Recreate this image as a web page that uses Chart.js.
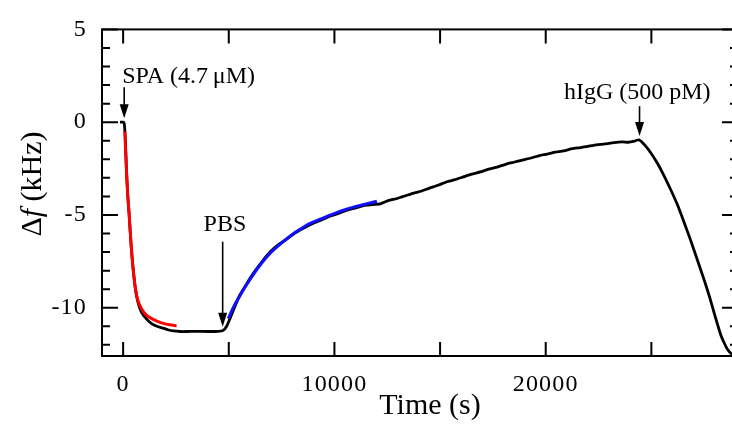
<!DOCTYPE html>
<html><head><meta charset="utf-8">
<script src="https://cdn.jsdelivr.net/npm/chart.js@4/dist/chart.umd.min.js"></script>
<style>
html,body{margin:0;padding:0;background:#fff;overflow:hidden;width:732px;height:438px;}
#wrap{width:740px;height:438px;}
canvas{display:block;}
</style></head><body>
<div id="wrap"><canvas id="c" width="740" height="438"></canvas></div>
<script>
// ---- measured trace (black) ----
const timeBlack = [-150, 0, 50, 100, 160, 220, 285, 380, 475, 585, 700, 870, 1100, 1345, 1600, 1900, 2150, 2370, 2700, 3000, 3500, 4000, 4500, 4740, 4900, 5050, 5300, 5530, 5850, 6160, 6550, 6950, 7350, 7745, 8130, 8530, 8900, 9320, 9700, 10110, 10500, 10900, 11500, 12165, 12480, 13000, 13400, 13745, 14100, 14500, 14900, 15325, 15700, 16100, 16500, 16905, 17300, 17700, 18100, 18485, 18900, 19300, 19700, 20065, 20450, 20850, 21250, 21645, 22000, 22400, 22800, 23225, 23600, 23935, 24200, 24408, 24700, 24960, 25280, 25590, 25900, 26230, 26550, 26860, 27170, 27490, 27750, 27960, 28130, 28280, 28450, 28600, 28800, 29000];
const dfBlack = [0, 0, -0.05, -0.8, -2.6, -4.0, -5.0, -6.7, -7.9, -9.0, -9.7, -10.25, -10.6, -10.85, -11.0, -11.1, -11.2, -11.25, -11.28, -11.28, -11.27, -11.28, -11.27, -11.22, -11.0, -10.6, -9.9, -9.3, -8.7, -8.15, -7.55, -7.0, -6.6, -6.3, -5.98, -5.72, -5.5, -5.3, -5.1, -4.95, -4.78, -4.65, -4.47, -4.4, -4.25, -4.1, -3.95, -3.82, -3.72, -3.55, -3.4, -3.21, -3.1, -2.95, -2.8, -2.68, -2.53, -2.42, -2.27, -2.16, -2.04, -1.93, -1.8, -1.72, -1.62, -1.55, -1.43, -1.37, -1.3, -1.22, -1.17, -1.1, -1.06, -1.08, -1.02, -0.95, -1.25, -1.63, -2.2, -2.86, -3.6, -4.44, -5.4, -6.37, -7.4, -8.47, -9.4, -10.23, -10.9, -11.45, -11.9, -12.24, -12.5, -12.6];
// ---- SPA binding fit (red) ----
const timeRed = [80, 95, 160, 220, 285, 380, 475, 585, 700, 870, 1100, 1345, 1600, 1900, 2200, 2530];
const dfRed = [-0.5, -0.93, -2.68, -3.95, -4.97, -6.6, -7.95, -9.0, -9.6, -10.05, -10.4, -10.58, -10.72, -10.84, -10.92, -10.98];
// ---- PBS fit (blue) ----
const timeBlue = [4976, 5250, 5530, 5850, 6160, 6550, 6950, 7350, 7745, 8130, 8530, 8900, 9320, 9700, 10110, 10500, 10900, 11450, 12010];
const dfBlue = [-10.58, -9.9, -9.35, -8.75, -8.21, -7.6, -7.07, -6.65, -6.28, -5.95, -5.66, -5.43, -5.23, -5.05, -4.87, -4.72, -4.58, -4.42, -4.26];
// ---- axes ----
const xLabelTicks = [0, 10000, 20000];
const xMajorTicks = [0, 5000, 10000, 15000, 20000, 25000];
const yLabelTicks = [5, 0, -5, -10];
const yMinorTicks = [4, 3, 2, 1, -1, -2, -3, -4, -6, -7, -8, -9, -11, -12];
const xTitle = 'Time (s)';
// ---- annotations (data units) ----
const annotLabels = ['SPA (4.7\u2009\u03bcM)', 'PBS', 'hIgG (500 pM)'];
const annotTextX = [3100, 4820, 24330];
const annotTextY = [2.09, -5.87, 1.23];
const arrowX = [50, 4711, 24440];
const arrowFrom = [1.88, -6.44, 0.86];
const arrowTo = [0.21, -11.02, -0.75];

const pts = (t, v) => t.map((x, i) => ({x: x, y: v[i]}));
const FONT = '"Liberation Serif", "Times New Roman", serif';

const deco = {
  id: 'deco',
  beforeDraw(chart) { chart.ctx.letterSpacing = '1.2px'; },
  afterDatasetsDraw(chart) {
    const {ctx, chartArea: a, scales: {x, y}} = chart;
    ctx.save();
    ctx.strokeStyle = '#000';
    ctx.lineWidth = 2;
    ctx.strokeRect(a.left, a.top, a.right - a.left, a.bottom - a.top);
    ctx.beginPath();
    yLabelTicks.forEach(v => { const p = y.getPixelForValue(v);
      ctx.moveTo(a.left, p); ctx.lineTo(a.left + 16, p);
      ctx.moveTo(a.right, p); ctx.lineTo(a.right - 16, p); });
    yMinorTicks.forEach(v => { const p = y.getPixelForValue(v);
      ctx.moveTo(a.left, p); ctx.lineTo(a.left + 8, p);
      ctx.moveTo(a.right, p); ctx.lineTo(a.right - 8, p); });
    xMajorTicks.forEach(v => { const p = x.getPixelForValue(v);
      ctx.moveTo(p, a.bottom); ctx.lineTo(p, a.bottom - 14);
      ctx.moveTo(p, a.top); ctx.lineTo(p, a.top + 14); });
    ctx.stroke();
    ctx.restore();
  },
  afterDraw(chart) {
    const {ctx, scales: {x, y}} = chart;
    ctx.save();
    ctx.letterSpacing = '0px';
    ctx.fillStyle = '#000';
    ctx.strokeStyle = '#000';
    ctx.font = '24px ' + FONT;
    ctx.textAlign = 'center';
    ctx.textBaseline = 'alphabetic';
    annotLabels.forEach((s, i) => {
      ctx.fillText(s, x.getPixelForValue(annotTextX[i]), y.getPixelForValue(annotTextY[i]));
      const px = x.getPixelForValue(arrowX[i]);
      const y0 = y.getPixelForValue(arrowFrom[i]);
      const y1 = y.getPixelForValue(arrowTo[i]);
      ctx.lineWidth = 1.6;
      ctx.beginPath(); ctx.moveTo(px, y0); ctx.lineTo(px, y1 - 12); ctx.stroke();
      ctx.beginPath(); ctx.moveTo(px, y1); ctx.lineTo(px - 4.5, y1 - 14); ctx.lineTo(px + 4.5, y1 - 14); ctx.closePath(); ctx.fill();
    });
    ctx.font = '30px ' + FONT;
    ctx.fillText(xTitle, 430, 414);
    const segs = [['\u0394', ''], ['f', 'italic '], [' (kHz)', '']];
    let w = 0;
    segs.forEach(s => { ctx.font = s[1] + '30px ' + FONT; w += ctx.measureText(s[0]).width; });
    ctx.translate(41, 184);
    ctx.rotate(-Math.PI / 2);
    ctx.textAlign = 'left';
    let cx = -w / 2;
    segs.forEach(s => { ctx.font = s[1] + '30px ' + FONT; ctx.fillText(s[0], cx, 0); cx += ctx.measureText(s[0]).width; });
    ctx.restore();
  }
};

new Chart(document.getElementById('c'), {
  type: 'scatter',
  data: {
    datasets: [
      {data: pts(timeRed, dfRed), showLine: true, borderColor: '#ff0000', borderWidth: 3, pointRadius: 0, tension: 0.3, order: 1},
      {data: pts(timeBlue, dfBlue), showLine: true, borderColor: '#1010ff', borderWidth: 3, pointRadius: 0, tension: 0.3, order: 1},
      {data: pts(timeBlack, dfBlack), showLine: true, borderColor: '#000', borderWidth: 2.8, pointRadius: 0, tension: 0.15, order: 2}
    ]
  },
  options: {
    responsive: false,
    animation: false,
    devicePixelRatio: 1,
    layout: {padding: {top: 21, right: 2, left: 0, bottom: 0}},
    plugins: {legend: {display: false}, tooltip: {enabled: false}},
    scales: {
      x: {
        type: 'linear', min: -1000, max: 29100,
        grid: {display: false, drawTicks: false}, border: {display: false},
        ticks: {font: {family: FONT, size: 24}, color: '#000', padding: 14, maxRotation: 0, autoSkip: false,
                callback: v => String(v)},
        afterBuildTicks: s => { s.ticks = xLabelTicks.map(v => ({value: v})); },
        afterFit: s => { s.height = 82; }
      },
      y: {
        type: 'linear', min: -12.6, max: 5,
        grid: {display: false, drawTicks: false}, border: {display: false},
        ticks: {font: {family: FONT, size: 24}, color: '#000', padding: 15, autoSkip: false,
                callback: v => String(v)},
        afterBuildTicks: s => { s.ticks = yLabelTicks.map(v => ({value: v})); },
        afterFit: s => { s.width = 102; }
      }
    }
  },
  plugins: [deco]
});
</script>
</body></html>
